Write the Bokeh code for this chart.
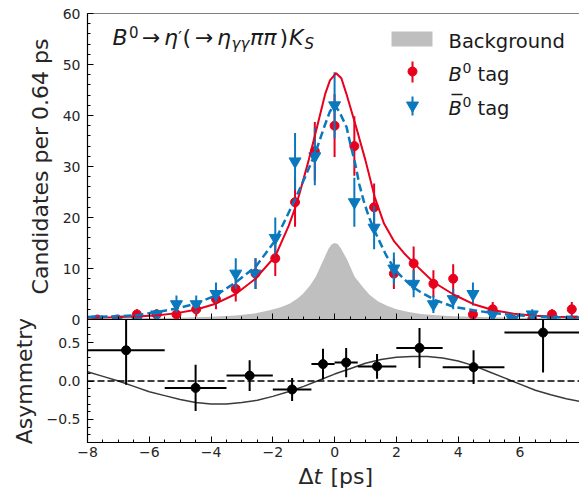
import numpy as np
from bokeh.plotting import figure
from bokeh.models import Label, Span, BoxAnnotation, FixedTicker, Range1d
from bokeh.layouts import column
from bokeh.embed import file_html
from bokeh.resources import INLINE

# ---------------- data ----------------
bin_centers = [-7.68, -7.04, -6.40, -5.76, -5.12, -4.48, -3.84, -3.20, -2.56, -1.92,
               -1.28, -0.64, 0.00, 0.64, 1.28, 1.92, 2.56, 3.20, 3.84, 4.48,
               5.12, 5.76, 6.40, 7.04, 7.68]
b0_tag = [0, 0, 1, 1, 1, 2, 4, 6, 9, 12, 23, 33, 38, 34, 22, 9, 11, 7, 8, 1, 2, 0, 0, 1, 2]
b0_tag_err = [0, 0, 1.0, 1.0, 1.0, 1.41, 2.0, 2.45, 3.0, 3.46, 4.8, 5.74, 6.16, 5.83,
              4.69, 3.0, 3.32, 2.65, 2.83, 1.0, 1.41, 0, 0, 1.0, 1.41]
b0bar_tag = [0, 0, 0, 1, 3, 3, 5, 9, 9, 16, 31, 32, 42, 23, 18, 10, 7, 3, 4, 5, 1, 0, 1, 0, 0]
b0bar_tag_err = [0, 0, 0, 1.0, 1.73, 1.73, 2.24, 3.0, 3.0, 4.0, 5.57, 5.66, 6.48, 4.8,
                 4.24, 3.16, 2.65, 1.73, 2.0, 2.24, 1.0, 0, 1.0, 0, 0]

# fit curves
red_fit_t = [-8, -7.2, -6.45, -5.8, -5.15, -4.5, -3.85, -3.2, -2.56, -1.92, -1.49, -1.27,
             -1.13, -0.84, -0.57, -0.30, -0.15, 0.05, 0.22, 0.38, 0.70, 1.0, 1.3, 1.6,
             1.93, 2.25, 2.57, 3.21, 3.85, 4.5, 5.15, 5.8, 6.5, 7.2, 8]
red_fit_v = [0.33, 0.45, 0.6, 0.8, 1.2, 1.9, 3.1, 5.0, 8.0, 12.4, 18.3, 22.0,
             24.8, 31.2, 37.7, 44.3, 46.9, 48.3, 47.3, 44.3, 37.7, 31.2, 24.0, 18.8,
             15.3, 13.0, 11.0, 7.3, 4.9, 3.0, 1.8, 1.15, 0.75, 0.55, 0.45]
blue_fit_t = [-8, -7.2, -6.45, -5.8, -5.15, -4.5, -3.85, -3.2, -2.56, -1.92, -1.6, -1.27,
              -0.95, -0.63, -0.34, -0.15, 0.0, 0.15, 0.39, 0.51, 0.67, 0.8, 0.94, 1.1,
              1.3, 1.67, 1.97, 2.24, 2.5, 2.78, 3.26, 3.85, 4.5, 5.15, 5.85, 6.5, 7.2, 8]
blue_fit_v = [0.5, 0.6, 0.8, 1.4, 2.1, 3.1, 4.7, 7.3, 10.3, 15.5, 19.5, 23.7,
              28.0, 32.5, 37.7, 40.8, 42.0, 40.8, 37.7, 34.4, 30.5, 26.5, 23.3, 20.3,
              17.3, 12.6, 9.6, 8.0, 6.5, 5.4, 3.8, 2.5, 1.8, 1.25, 0.85, 0.6, 0.45, 0.35]
bkg_t = [-8, -6, -5, -4, -3.2, -2.6, -2.1, -1.75, -1.46, -1.2, -1.03, -0.8, -0.6, -0.4,
         -0.2, -0.1, 0, 0.1, 0.2, 0.4, 0.65, 0.94, 1.14, 1.4, 1.7, 2.0, 2.44, 2.8, 3.3,
         3.85, 5, 6, 7, 8]
bkg_v = [0.2, 0.28, 0.35, 0.55, 0.8, 1.2, 1.8, 2.4, 3.1, 4.1, 5.0, 6.6, 8.5, 11.2,
         13.8, 14.7, 15.0, 14.8, 14.0, 11.8, 8.4, 6.2, 4.8, 3.6, 2.7, 2.0, 1.4, 1.1, 0.85,
         0.65, 0.45, 0.35, 0.3, 0.25]

# asymmetry panel
asym_t = [-6.75, -4.5, -2.75, -1.375, -0.375, 0.375, 1.375, 2.75, 4.5, 6.75]
asym_lo = [-8, -5.5, -3.5, -2, -0.75, 0, 0.75, 2, 3.5, 5.5]
asym_hi = [-5.5, -3.5, -2, -0.75, 0, 0.75, 2, 3.5, 5.5, 8]
asym_val = [0.40, -0.09, 0.07, -0.11, 0.22, 0.24, 0.19, 0.43, 0.18, 0.63]
asym_err = [0.45, 0.30, 0.20, 0.15, 0.20, 0.19, 0.16, 0.26, 0.22, 0.52]
asym_fit_t = [-8, -7.5, -7, -6.5, -6, -5.5, -5, -4.5, -4, -3.5, -3, -2.5, -2, -1.5, -1,
              -0.5, 0, 0.5, 1, 1.5, 2, 2.5, 3, 3.5, 4, 4.5, 5, 5.5, 6, 6.5, 7, 7.5, 8]
asym_fit_v = [0.12, 0.06, 0.0, -0.07, -0.14, -0.19, -0.24, -0.28, -0.30, -0.30, -0.28,
              -0.25, -0.20, -0.14, -0.07, 0.01, 0.09, 0.16, 0.23, 0.28, 0.31, 0.32, 0.32,
              0.30, 0.26, 0.20, 0.12, 0.04, -0.04, -0.12, -0.18, -0.23, -0.27]

x_ticks = [-8, -6, -4, -2, 0, 2, 4, 6, 8]
x_tick_labels = ["\u22128", "\u22126", "\u22124", "\u22122", "0", "2", "4", "6", "8"]
y_ticks = [0, 10, 20, 30, 40, 50, 60]
y_tick_labels = ["0", "10", "20", "30", "40", "50", "60"]
a_ticks = [-0.5, 0.0, 0.5]
a_tick_labels = ["\u22120.5", "0.0", "0.5"]

# ---------------- styling / layout ----------------
FONT = "DejaVu Sans"
TXT = "#1a1a1a"
RED = "#e8001c"
BLUE = "#0a78be"
GRAY = "#bfbfbf"
XMIN, XMAX = -8.0, 7.93
FRAME_L = 87          # frame left edge (page px)
FRAME_W = 492
TOP_Y0 = 13           # frame top (page px)
TOP_H = 306
BOT_H = 123
OVERLAP = 8
BOT_BORDER = 36
XL_OVERLAP = 28
XL_TOP = TOP_Y0 + TOP_H + BOT_H + BOT_BORDER - XL_OVERLAP   # page y of strip top
XL_H = 490 - XL_TOP
XL_BASELINE = 482
BASE_FIX = 0.28       # label anchor correction (fraction of font size)


def px_t(xp):
    return XMIN + (xp - FRAME_L) * (XMAX - XMIN) / FRAME_W


def py_top(yp):
    return 60.0 - (yp - TOP_Y0) * 60.0 / TOP_H


def style_axes(p):
    p.grid.visible = False
    p.outline_line_color = None
    for ax in p.axis:
        ax.major_tick_in = 6
        ax.major_tick_out = 0
        ax.minor_tick_in = 3
        ax.minor_tick_out = 0
        ax.major_tick_line_color = "black"
        ax.minor_tick_line_color = "black"
        ax.major_tick_line_width = 1
        ax.minor_tick_line_width = 1
        ax.axis_line_color = "black"
        ax.axis_line_width = 1.2
        ax.major_label_text_font = FONT
        ax.major_label_text_font_size = "14px"
        ax.major_label_text_color = "#262626"
        ax.major_label_standoff = 7
        ax.axis_label_text_font = FONT
        ax.axis_label_text_font_size = "22px"
        ax.axis_label_text_font_style = "normal"
        ax.axis_label_text_color = "#262626"
        ax.axis_label_standoff = 7


x_minor = list(np.arange(-8, 8.01, 0.5))

top = figure(frame_width=FRAME_W, frame_height=TOP_H,
             min_border_left=FRAME_L, min_border_right=0,
             min_border_top=TOP_Y0, min_border_bottom=OVERLAP,
             x_range=Range1d(XMIN, XMAX), y_range=Range1d(0, 60),
             output_backend="svg", toolbar_location=None)
style_axes(top)
top.background_fill_color = "white"
top.border_fill_color = "white"
top.xaxis.ticker = FixedTicker(ticks=x_ticks, minor_ticks=x_minor)
top.xaxis.major_label_text_font_size = "0px"
top.xaxis.major_label_text_color = None
top.xaxis.major_label_standoff = 0
top.yaxis.ticker = FixedTicker(ticks=y_ticks, minor_ticks=list(range(0, 61, 2)))
top.yaxis.major_label_overrides = dict(zip(y_ticks, y_tick_labels))
top.yaxis.axis_label = "Candidates per 0.64 ps"
top.add_layout(Span(location=60, dimension="width", line_color="black", line_width=1.2))

# background
top.varea(x=bkg_t, y1=0, y2=bkg_v, fill_color=GRAY, fill_alpha=1.0)

# data points
r_lo = [v - e for v, e in zip(b0_tag, b0_tag_err)]
r_hi = [v + e for v, e in zip(b0_tag, b0_tag_err)]
b_lo = [v - e for v, e in zip(b0bar_tag, b0bar_tag_err)]
b_hi = [v + e for v, e in zip(b0bar_tag, b0bar_tag_err)]
top.segment(x0=bin_centers, y0=r_lo, x1=bin_centers, y1=r_hi, line_color=RED, line_width=2)
top.scatter(x=bin_centers, y=b0_tag, marker="circle", size=9, fill_color=RED, line_color=RED)
top.segment(x0=bin_centers, y0=b_lo, x1=bin_centers, y1=b_hi, line_color=BLUE, line_width=2)
top.scatter(x=bin_centers, y=b0bar_tag, marker="inverted_triangle", size=12,
            fill_color=BLUE, line_color=BLUE)

# fit curves
top.line(red_fit_t, red_fit_v, line_color=RED, line_width=2)
top.line(blue_fit_t, blue_fit_v, line_color=BLUE, line_width=2.5, line_dash="8 4")


def add_text(p, text, xp, yp, size, style="normal"):
    p.add_layout(Label(x=px_t(xp), y=py_top(yp - BASE_FIX * size), text=text, text_font=FONT,
                       text_font_size=f"{size}px", text_font_style=style,
                       text_color=TXT, text_baseline="alphabetic", text_align="left"))


# decay-mode title
title_pieces = [
    ("B", 112, 43, 22, "italic"),
    ("0", 128.5, 36, 15, "normal"),
    ("\u2192", 141.5, 43, 22, "normal"),
    ("\u03b7", 163.5, 43, 22, "italic"),
    ("\u2032", 177.5, 42, 18, "normal"),
    ("(", 182, 43, 22, "normal"),
    ("\u2192", 194.5, 43, 22, "normal"),
    ("\u03b7", 216.5, 43, 22, "italic"),
    ("\u03b3\u03b3", 231, 47.5, 15, "italic"),
    ("\u03c0\u03c0", 249.5, 43, 22, "italic"),
    (")", 279, 43, 22, "normal"),
    ("K", 288.5, 43, 22, "italic"),
    ("S", 304, 47.5, 15, "italic"),
]
for txt, xp, yp, sz, st in title_pieces:
    add_text(top, txt, xp, yp, sz, st)

# legend
top.add_layout(BoxAnnotation(left=px_t(391), right=px_t(432), bottom=py_top(46), top=py_top(31),
                             fill_color=GRAY, fill_alpha=1.0, line_color=None))
add_text(top, "Background", 448, 46.5, 19.5)
top.segment(x0=[px_t(412)], y0=[py_top(82)], x1=[px_t(412)], y1=[py_top(61)],
            line_color=RED, line_width=2)
top.scatter(x=[px_t(412)], y=[py_top(71)], marker="circle", size=9, fill_color=RED, line_color=RED)
add_text(top, "B", 448, 79, 19.5, "italic")
add_text(top, "0", 462, 71.5, 14, "normal")
add_text(top, "tag", 477, 79, 19.5)
top.segment(x0=[px_t(412)], y0=[py_top(115)], x1=[px_t(412)], y1=[py_top(96)],
            line_color=BLUE, line_width=2)
top.scatter(x=[px_t(412)], y=[py_top(105)], marker="inverted_triangle", size=12,
            fill_color=BLUE, line_color=BLUE)
add_text(top, "B", 448, 113, 19.5, "italic")
top.segment(x0=[px_t(451)], y0=[py_top(94)], x1=[px_t(462)], y1=[py_top(94)],
            line_color=TXT, line_width=1.5)
add_text(top, "0", 462, 105.5, 14, "normal")
add_text(top, "tag", 477, 113, 19.5)

# ---------------- asymmetry panel ----------------
bot = figure(frame_width=FRAME_W, frame_height=BOT_H,
             min_border_left=FRAME_L, min_border_right=0,
             min_border_top=0, min_border_bottom=BOT_BORDER,
             x_range=top.x_range, y_range=Range1d(-0.8, 0.8),
             output_backend="svg", toolbar_location=None,
             styles={"margin-top": f"-{OVERLAP}px"})
style_axes(bot)
bot.background_fill_color = None
bot.border_fill_color = None
bot.xaxis.ticker = FixedTicker(ticks=x_ticks, minor_ticks=x_minor)
bot.xaxis.major_label_overrides = dict(zip(x_ticks, x_tick_labels))
bot.xaxis.major_label_standoff = 4
bot.yaxis.ticker = FixedTicker(ticks=a_ticks,
                               minor_ticks=list(np.round(np.arange(-0.8, 0.81, 0.1), 2)))
bot.yaxis.major_label_overrides = dict(zip(a_ticks, a_tick_labels))
bot.yaxis.axis_label = "Asymmetry"

bot.line(asym_fit_t, asym_fit_v, line_color="#3a3a3a", line_width=1.5)
bot.add_layout(Span(location=0, dimension="width", line_color="black", line_width=1.5,
                    line_dash="7 3"))
a_lo = [v - e for v, e in zip(asym_val, asym_err)]
a_hi = [v + e for v, e in zip(asym_val, asym_err)]
bot.segment(x0=asym_t, y0=a_lo, x1=asym_t, y1=a_hi, line_color="black", line_width=2)
bot.segment(x0=asym_lo, y0=asym_val, x1=asym_hi, y1=asym_val, line_color="black", line_width=2)
bot.scatter(x=asym_t, y=asym_val, marker="circle", size=9, fill_color="black", line_color="black")

# ---------------- x-axis title strip (same horizontal geometry as the panels) ----------------
xlab = figure(frame_width=FRAME_W, frame_height=XL_H,
              min_border_left=FRAME_L, min_border_right=0,
              min_border_top=0, min_border_bottom=0,
              x_range=top.x_range, y_range=Range1d(XL_H, 0),
              x_axis_location=None, y_axis_location=None,
              output_backend="svg", toolbar_location=None,
              styles={"margin-top": f"-{XL_OVERLAP}px"})
xlab.grid.visible = False
xlab.outline_line_color = None
xlab.background_fill_color = None
xlab.border_fill_color = None
for txt, xp, st in [("\u0394", 298, "normal"), ("t", 313, "italic"), ("[ps]", 330, "normal")]:
    xlab.add_layout(Label(x=px_t(xp), y=XL_BASELINE - XL_TOP - BASE_FIX * 22, text=txt,
                          text_font=FONT, text_font_size="22px", text_font_style=st,
                          text_color="#262626", text_baseline="alphabetic",
                          text_align="left"))

layout = column(top, bot, xlab, spacing=0)
open("out.html", "w").write(file_html(layout, INLINE))
